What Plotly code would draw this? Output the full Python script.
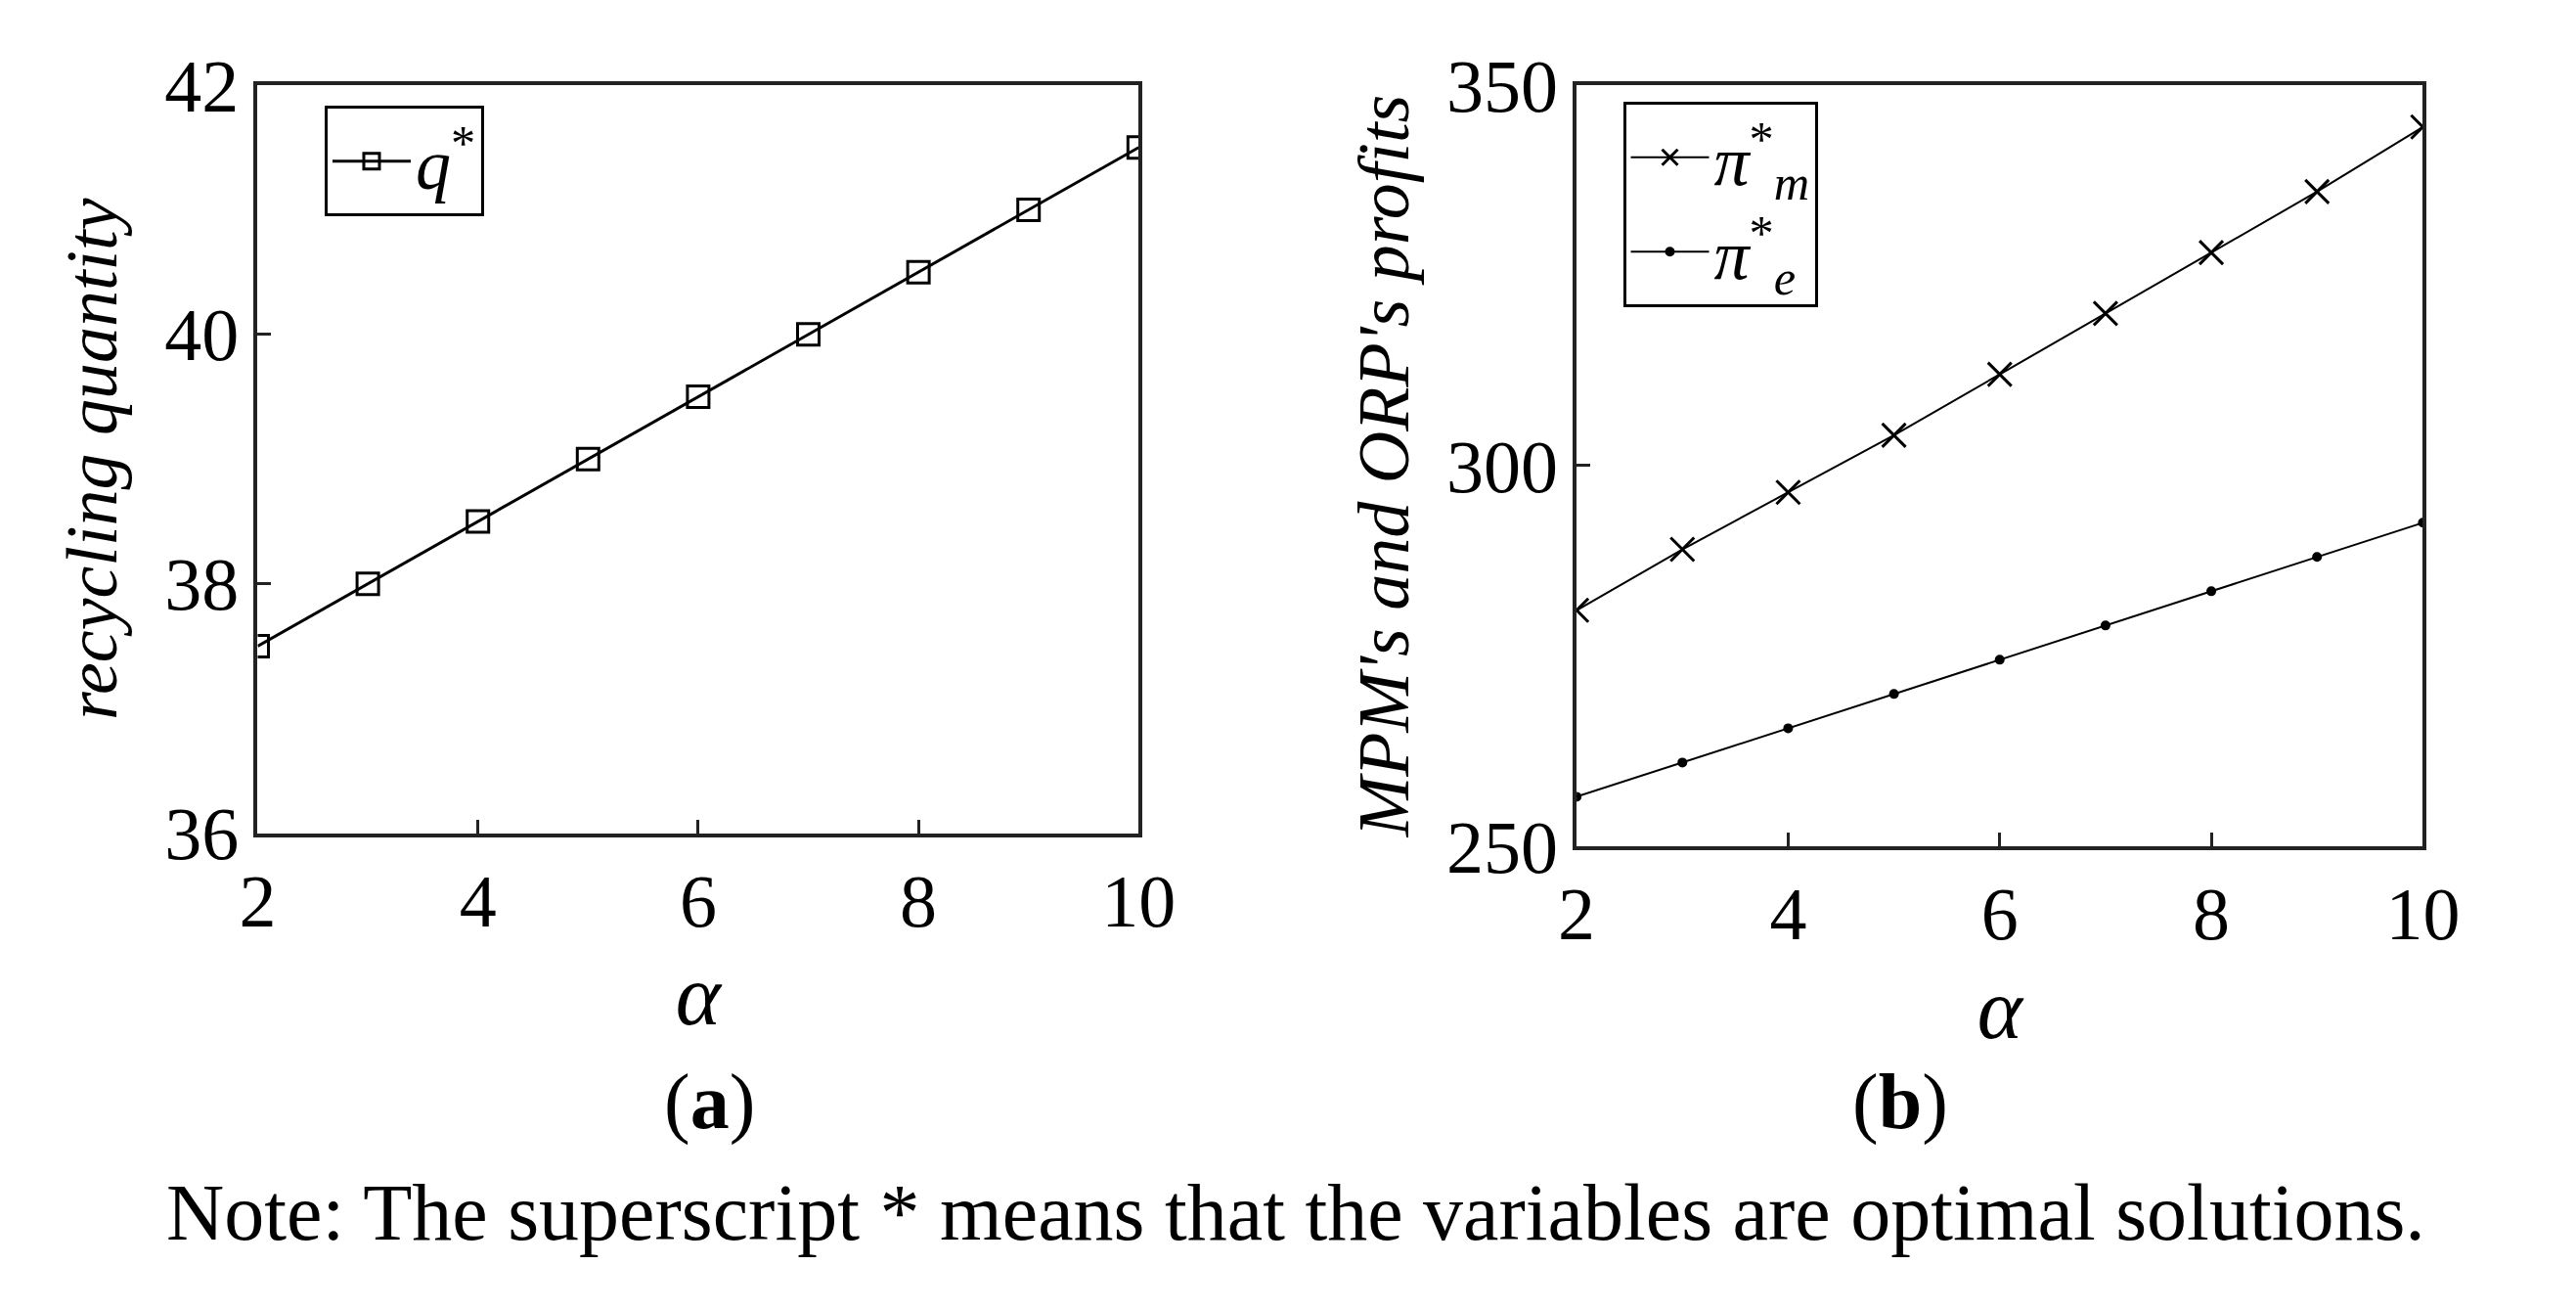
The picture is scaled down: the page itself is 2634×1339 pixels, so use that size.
import plotly.graph_objects as go

alpha = [2, 3, 4, 5, 6, 7, 8, 9, 10]
q_star = [37.5, 38.0, 38.5, 39.0, 39.5, 40.0, 40.5, 41.0, 41.5]
pi_m = [281, 289, 296.5, 304, 312, 320, 328, 336, 344.5]
pi_e = [256.5, 261, 265.5, 270, 274.5, 279, 283.5, 288, 292.5]

W, H = 2634, 1339
SERIF = "Liberation Serif"
TICK = 76

fig = go.Figure()

fig.add_trace(go.Scatter(
    x=alpha, y=q_star, mode="lines+markers", name="<i>q</i><sup>*</sup>",
    line=dict(color="black", width=3),
    marker=dict(symbol="square-open", size=22, color="black", line=dict(width=3)),
    xaxis="x", yaxis="y", legend="legend",
))
fig.add_trace(go.Scatter(
    x=alpha, y=pi_m, mode="lines+markers", name="<i>π</i><sup>*</sup><sub><i>m</i></sub>",
    line=dict(color="black", width=2),
    marker=dict(symbol="x-thin-open", size=24, color="black", line=dict(width=3, color="black")),
    xaxis="x2", yaxis="y2", legend="legend2",
))
fig.add_trace(go.Scatter(
    x=alpha, y=pi_e, mode="lines+markers", name="<i>π</i><sup>*</sup><sub><i>e</i></sub>",
    line=dict(color="black", width=2),
    marker=dict(symbol="circle", size=10, color="black"),
    xaxis="x2", yaxis="y2", legend="legend2",
))

ax = dict(showline=True, linecolor="#222", linewidth=4, mirror=True,
          ticks="inside", ticklen=14, tickwidth=3, tickcolor="#222",
          showgrid=False, zeroline=False, automargin=False,
          tickfont=dict(family=SERIF, size=TICK, color="black"))
ttl = dict(family=SERIF, size=74, color="black")
alf = dict(family=SERIF, size=88, color="black")

fig.update_layout(
    width=W, height=H, plot_bgcolor="white", paper_bgcolor="white",
    margin=dict(l=0, r=0, t=0, b=0, autoexpand=False),
    xaxis=dict(ax, domain=[0.097, 0.439], range=[2, 10], tickvals=[2, 4, 6, 8, 10],
               anchor="y", title=dict(text="<i>α</i>", font=alf, standoff=25)),
    yaxis=dict(ax, domain=[0.370, 0.941], range=[36, 42], tickvals=[36, 38, 40, 42],
               anchor="x", title=dict(text="<i>recycling quantity</i>", font=ttl, standoff=25)),
    xaxis2=dict(ax, domain=[0.609, 0.9375], range=[2, 10], tickvals=[2, 4, 6, 8, 10],
                anchor="y2", title=dict(text="<i>α</i>", font=alf, standoff=25)),
    yaxis2=dict(ax, domain=[0.360, 0.941], range=[250, 350], tickvals=[250, 300, 350],
                anchor="x2", title=dict(text="<i>MPM's and ORP's profits</i>", font=ttl, standoff=15)),
    legend=dict(x=0.123, y=0.925, xanchor="left", yanchor="top", bgcolor="white",
                bordercolor="black", borderwidth=3, itemwidth=80,
                font=dict(family=SERIF, size=72, color="black")),
    legend2=dict(x=0.627, y=0.928, xanchor="left", yanchor="top", bgcolor="white",
                 bordercolor="black", borderwidth=3, itemwidth=80, tracegroupgap=20,
                 font=dict(family=SERIF, size=72, color="black")),
    showlegend=True,
)

fig.add_annotation(text="(<b>a</b>)", x=0.254, y=0.13, xref="paper", yref="paper",
                   showarrow=False, font=dict(family=SERIF, size=80, color="black"))
fig.add_annotation(text="(<b>b</b>)", x=0.754, y=0.13, xref="paper", yref="paper",
                   showarrow=False, font=dict(family=SERIF, size=80, color="black"))
fig.add_annotation(text="Note: The superscript * means that the variables are optimal solutions.",
                   x=0.5, y=0.045, xref="paper", yref="paper", showarrow=False,
                   font=dict(family=SERIF, size=82, color="black"))

fig.write_html("out.html")
